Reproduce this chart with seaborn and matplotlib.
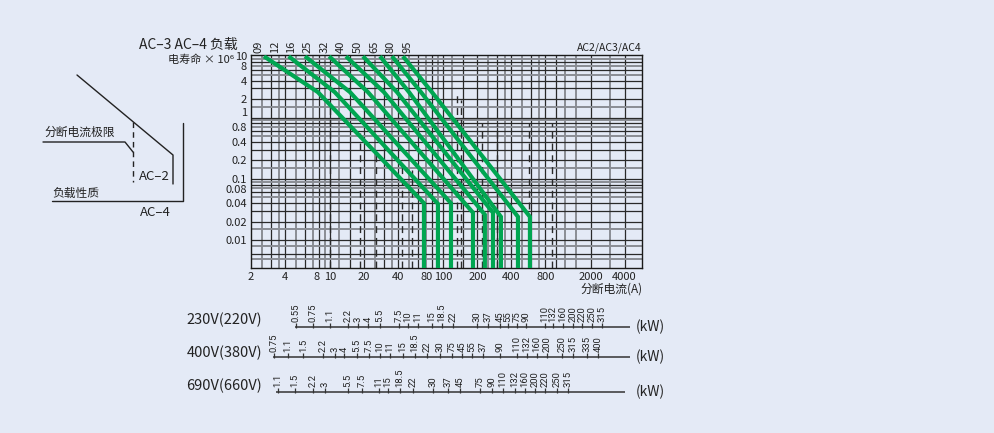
import matplotlib
matplotlib.use("Agg")
import matplotlib.pyplot as plt
from matplotlib.ticker import NullLocator, NullFormatter
import pandas as pd
import seaborn as sns

# ---------------- data ----------------
contactor_sizes = ["09", "12", "16", "25", "32", "40", "50", "65", "80", "95"]

# electrical-life curves: current (A) vs electrical life (x10^6 operations)
life_start = 10.0
life_floor = 0.0035
curve_start_A = [2.6, 4.3, 6.0, 9.8, 13.8, 19.5, 27.6, 35.2, 44.0]
curve_knee_A = [7.8, 11.0, 15.0, 21.6, 29.9, 39.0, 49.8, 63.5, 79.4]
curve_knee_life = [2.6, 2.6, 2.6, 2.6, 2.6, 2.6, 2.6, 2.6, 2.6]
curve_limit_A = [67.5, 89.7, 117, 183, 233, 275, 323, 457, 583]
curve_limit_life = [0.040, 0.039, 0.040, 0.028, 0.026, 0.028, 0.024, 0.024, 0.024]

# AC-2 breaking limits (dashed verticals): current (A), upper end (life)
ac2_A = [10.0, 18.4, 25.4, 43.1, 52.9, 132, 143, 220, 298, 571, 912]
ac2_life = [1.73, 0.56, 0.30, 0.17, 0.14, 2.6, 1.9, 0.82, 0.76, 0.82, 0.82]

x_ticks = [2, 4, 8, 10, 20, 40, 80, 100, 200, 400, 800, 2000, 4000]
y_ticks = [10, 8, 4, 2, 1, 0.8, 0.4, 0.2, 0.1, 0.08, 0.04, 0.02, 0.01]
y_tick_labels = ["10", "8", "4", "2", "1", "0.8", "0.4", "0.2", "0.1",
                 "0.08", "0.04", "0.02", "0.01"]

grid_x_dark = [3, 4, 6, 8, 10, 15, 20, 30, 40, 60, 80, 100, 150, 200, 300,
               400, 600, 800, 1000, 2000, 4000]
grid_x_light = [2.5, 3.5, 5, 7, 9, 12, 25, 35, 50, 70, 90, 120, 250, 350,
                500, 700, 1200, 1500, 3000]
grid_y_dark = [8, 6, 4, 3, 2, 1, 0.8, 0.6, 0.4, 0.3, 0.2, 0.1, 0.08, 0.06,
               0.04, 0.03, 0.02, 0.01, 0.006]
grid_y_light = [9, 7, 5, 1.5, 0.9, 0.7, 0.5, 0.15, 0.09, 0.07, 0.05, 0.015,
                0.008, 0.005]

# motor power scales (kW) and the current (A) each tick lines up with
kw_230_labels = ["0.55", "0.75", "1.1", "2.2", "3", "4", "5.5", "7.5", "10", "11",
                 "15", "18.5", "22", "30", "37", "45", "55", "75", "90", "110",
                 "132", "160", "200", "220", "250", "315"]
kw_230_A = [5.0, 7.1, 10, 14.4, 17.6, 21.6, 27.6, 40.6, 48.7, 60, 79, 97, 122,
            198, 248, 317, 373, 448, 537, 790, 930, 1140, 1400, 1680, 2060, 2520]
kw_400_labels = ["0.75", "1.1", "1.5", "2.2", "3", "4", "5.5", "7.5", "10", "11",
                 "15", "18.5", "22", "30", "75", "45", "55", "37", "90", "110",
                 "132", "160", "200", "250", "315", "335", "400"]
kw_400_A = [3.2, 4.25, 5.8, 8.7, 11.0, 13.3, 17.3, 22.0, 27.6, 33.8, 44.0, 56.2,
            71.7, 93.5, 119, 146, 179, 224, 317, 448, 549, 672, 824, 1118, 1398,
            1858, 2325]
kw_690_labels = ["1.1", "1.5", "2.2", "3", "5.5", "7.5", "11", "15", "18.5", "22",
                 "30", "37", "45", "75", "90", "110", "132", "160", "200", "220",
                 "250", "315"]
kw_690_A = [3.46, 4.9, 7.06, 9.0, 14.4, 19.1, 27.0, 32.5, 41.4, 54.0, 81.0, 110,
            140, 211, 269, 337, 430, 527, 645, 791, 1010, 1263]
kw_row_names = ["230V(220V)", "400V(380V)", "690V(660V)"]
kw_row_end_A = [4450, 4450, 4030]

# ---------------- styling ----------------
BG = "#e4eaf6"
INK = "#222222"
GREEN = "#00a651"

sns.set_theme(style="white")
plt.rcParams["font.family"] = ["Noto Sans CJK SC", "DejaVu Sans"]
plt.rcParams["axes.unicode_minus"] = False

W, H = 994, 433
fig = plt.figure(figsize=(W / 100, H / 100), dpi=100, facecolor=BG)


def fx(px):
    return px / W


def fy(py):
    return 1 - py / H


# main chart axes
ax = fig.add_axes([fx(251), fy(268), fx(642) - fx(251), fy(55) - fy(268)])
ax.set_facecolor(BG)
ax.set_xscale("log")
ax.set_yscale("log")
ax.set_xlim(2, 5700)
ax.set_ylim(life_floor, 10.5)

# grid
ax.vlines(grid_x_light, life_floor, 10.5, color="#8a8d94", lw=1.4, zorder=1)
ax.vlines(grid_x_dark, life_floor, 10.5, color="#2a2a2a", lw=0.9, zorder=1)
ax.hlines(grid_y_light, 2, 5700, color="#8a8d94", lw=1.4, zorder=1)
ax.hlines(grid_y_dark, 2, 5700, color="#2a2a2a", lw=0.9, zorder=1)

# AC-2 dashed limits
ax.vlines(ac2_A, life_floor, ac2_life, color="#2a2a2a", lw=1.0,
          linestyles=(0, (5, 3.5)), zorder=2)

# curves
rows = []
for i in range(len(curve_start_A)):
    pts = [(curve_start_A[i], life_start),
           (curve_knee_A[i], curve_knee_life[i]),
           (curve_limit_A[i], curve_limit_life[i]),
           (curve_limit_A[i], life_floor)]
    for j, (a, l) in enumerate(pts):
        rows.append({"curve": i, "order": j, "current": a, "life": l})
df = pd.DataFrame(rows)
sns.lineplot(data=df, x="current", y="life", units="curve", estimator=None,
             sort=False, color=GREEN, lw=3.0, ax=ax, zorder=3,
             solid_joinstyle="miter", solid_capstyle="butt")

for s in ax.spines.values():
    s.set_color("#1a1a1a")
    s.set_linewidth(1.0)
    s.set_visible(True)

ax.xaxis.set_minor_locator(NullLocator())
ax.yaxis.set_minor_locator(NullLocator())
ax.xaxis.set_minor_formatter(NullFormatter())
ax.yaxis.set_minor_formatter(NullFormatter())
ax.set_xticks(x_ticks)
ax.set_xticklabels([str(v) for v in x_ticks])
ax.set_yticks(y_ticks)
ax.set_yticklabels(y_tick_labels)
ax.tick_params(axis="both", length=0, labelsize=8, colors=INK, pad=3)
ax.set_xlabel("")
ax.set_ylabel("")
for lbl in ax.get_xticklabels():
    if lbl.get_text() in ("8", "80"):
        lbl.set_ha("right")
for lbl in ax.get_yticklabels():
    t = lbl.get_text()
    if t in ("8", "0.8", "0.08"):
        lbl.set_va("top")
    elif t == "1":
        lbl.set_va("bottom")

# contactor size labels above the grid
n = len(contactor_sizes)
for k, lab in enumerate(contactor_sizes):
    xf = 0.018 + k * (0.399 - 0.018) / (n - 1)
    ax.text(xf, 1.008, lab, rotation=90, ha="center", va="bottom",
            fontsize=8, color=INK, transform=ax.transAxes)
ax.text(1.0, 1.008, "AC2/AC3/AC4", ha="right", va="bottom", fontsize=7.5,
        color=INK, transform=ax.transAxes)

# ---------------- kW scales (share the current axis) ----------------
kax = fig.add_axes([fx(251), fy(400), fx(642) - fx(251), fy(300) - fy(400)],
                   sharex=ax)
kax.set_ylim(0, 100)
kax.axis("off")
row_y = [73, 43, 8]
kw_rows = [(kw_230_labels, kw_230_A), (kw_400_labels, kw_400_A),
           (kw_690_labels, kw_690_A)]
for r, (labs, amps) in enumerate(kw_rows):
    y0 = row_y[r]
    kax.hlines(y0, amps[0] * 0.97, kw_row_end_A[r], color="#333333", lw=1.1)
    kax.vlines(amps, y0 - 1, y0 + 4, color="#333333", lw=0.9)
    for a, t in zip(amps, labs):
        kax.text(a, y0 + 5, t, rotation=90, ha="center", va="bottom",
                 fontsize=6.8, color=INK, family=["Roboto", "DejaVu Sans"])

# ---------------- free text & schematic (figure pixels) ----------------
dax = fig.add_axes([0, 0, 1, 1], zorder=-1)
dax.set_xlim(0, W)
dax.set_ylim(H, 0)
dax.axis("off")
dax.patch.set_alpha(0)

dax.text(238, 45, "AC–3 AC–4 负载", ha="right", va="center", fontsize=10, color=INK)
dax.text(234, 60, "电寿命 × 10⁶", ha="right", va="center", fontsize=8, color=INK)
dax.text(643, 289, "分断电流(A)", ha="right", va="center", fontsize=8.5, color=INK)

for name, yy in zip(kw_row_names, [320, 353, 386]):
    dax.text(262, yy, name, ha="right", va="center", fontsize=10.5, color=INK)
for yy in [327, 357, 392]:
    dax.text(636, yy, "(kW)", ha="left", va="center", fontsize=10, color=INK)

# load-type schematic
dax.plot([77, 173, 173], [75, 155, 184], color="#222222", lw=1.0)
dax.plot([133, 133], [122, 182], color="#222222", lw=1.0, ls=(0, (4, 3)))
dax.plot([43, 125, 133], [142, 142, 152], color="#222222", lw=1.0)
dax.plot([183, 183, 52], [123, 201, 201], color="#222222", lw=1.0)
dax.text(44, 132, "分断电流极限", ha="left", va="center", fontsize=8.5, color=INK)
dax.text(139, 177, "AC–2", ha="left", va="center", fontsize=9.5, color=INK)
dax.text(52, 193, "负载性质", ha="left", va="center", fontsize=8.5, color=INK)
dax.text(140, 212, "AC–4", ha="left", va="center", fontsize=9.5, color=INK)

fig.savefig("out.png", dpi=100, facecolor=BG)
